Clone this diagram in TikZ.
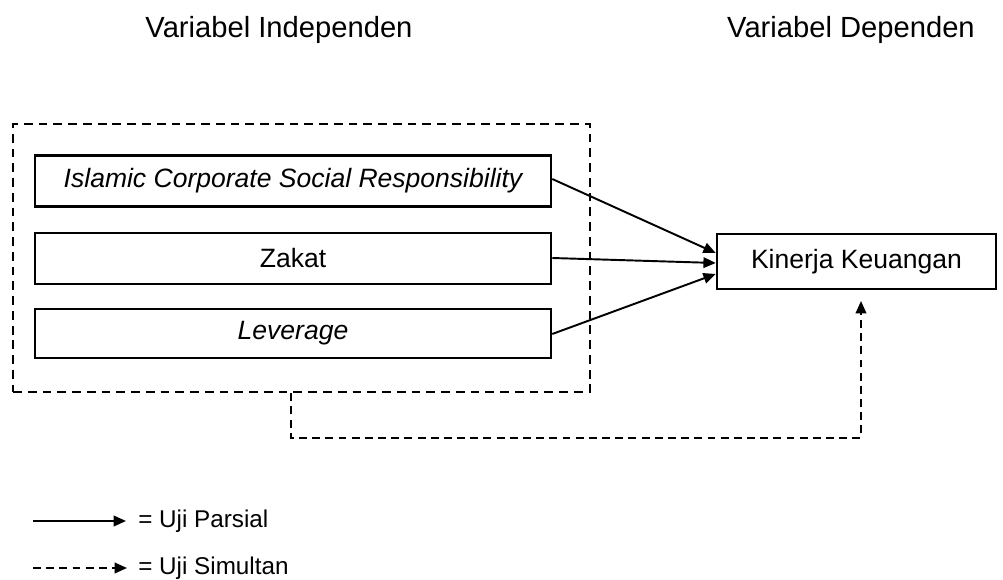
\documentclass[tikz,border=0pt]{standalone}
\usepackage{fontspec}
\setmainfont{Liberation Sans}
\usetikzlibrary{arrows.meta,calc}
\begin{document}
\begin{tikzpicture}[x=0.02cm,y=-0.02cm,
  every node/.style={font=\fontsize{15.1}{18}\selectfont},
  title/.style={font=\fontsize{16.6}{20}\selectfont},
  varbox/.style={draw,line width=1.5pt,minimum width=10.32cm,minimum height=1.0cm,inner sep=0pt},
  grpbox/.style={draw,line width=1.5pt,dash pattern=on 5pt off 3.4pt,minimum width=11.54cm,minimum height=5.36cm,inner sep=0pt},
  part/.style={line width=1.1pt,-{Triangle[length=7pt,width=6pt]}},
  simul/.style={line width=1.1pt,dash pattern=on 4.5pt off 3pt,-{Triangle[length=7pt,width=6pt]}},
  lbl/.style={anchor=west,inner sep=0pt,font=\fontsize{13.8}{16}\selectfont}]
\useasboundingbox (0,0) rectangle (1003,580);
\node[title] (t1) at (279,30) {Variabel Independen};
\node[title] (t2) at (851,30) {Variabel Dependen};
\node[grpbox] (grp) at (301.5,258) {};
\node[varbox,minimum height=1.02cm] (icsr) at (293,181) {\itshape Islamic Corporate Social Responsibility};
\node[varbox,minimum height=1.02cm] (zak) at (293,258.5) {Zakat};
\node[varbox,minimum height=0.98cm] (lev) at (293,333.5) {\itshape Leverage};
\node[varbox,minimum width=5.58cm,minimum height=1.1cm] (kin) at (856.5,261.5) {Kinerja Keuangan};
\coordinate (k1) at (kin.west |- 0,253);
\coordinate (k2) at (kin.west |- 0,263);
\coordinate (k3) at (kin.west |- 0,274);
\coordinate (i1) at (icsr.east |- 0,179);
\coordinate (z1) at (zak.east |- 0,258);
\coordinate (l1) at (lev.east |- 0,334);
\draw[part] (i1) -- (k1);
\draw[part] (z1) -- (k2);
\draw[part] (l1) -- (k3);
\coordinate (g1) at (grp.south -| 291,0);
\coordinate (kb) at (861,301);
\draw[simul] (g1) -- (291,438) -- (861,438) -- (kb);
\coordinate (a1) at (33,521);
\coordinate (a2) at (126,521);
\draw[part] (a1) -- (a2);
\node[lbl] (p) at (138,521) {= Uji Parsial};
\coordinate (b1) at (33,568);
\coordinate (b2) at (127,568);
\draw[simul] (b1) -- (b2);
\node[lbl] (s) at (138,568) {= Uji Simultan};
\end{tikzpicture}
\end{document}
